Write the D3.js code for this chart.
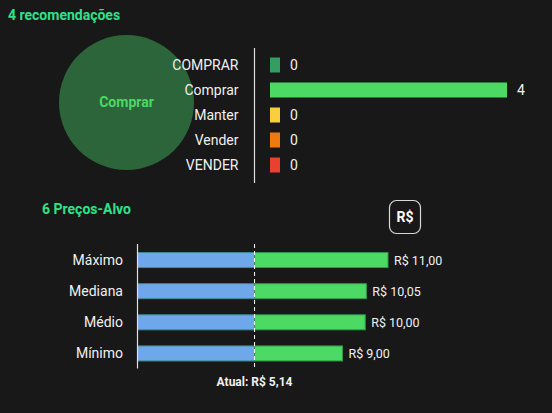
<!DOCTYPE html>
<html><head><meta charset="utf-8">
<script src="https://cdn.jsdelivr.net/npm/d3@7"></script>
<style>
html,body{margin:0;padding:0;background:#181818;}
svg{display:block;font-family:Roboto,"Noto Sans",sans-serif;}
</style></head>
<body>
<svg id="c" width="552" height="413"></svg>
<script>
const recTitle = "4 recomendações";
const recCategories = ["COMPRAR","Comprar","Manter","Vender","VENDER"];
const recValues = [0,4,0,0,0];
const recColors = ["#339d62","#4cd964","#f9cf3f","#ee7a10","#e8412f"];
const consensus = "Comprar";

const priceTitle = "6 Preços-Alvo";
const priceCategories = ["Máximo","Mediana","Médio","Mínimo"];
const priceValues = [11.00,10.05,10.00,9.00];
const priceLabels = ["R$ 11,00","R$ 10,05","R$ 10,00","R$ 9,00"];
const currentPrice = 5.14;
const currentLabel = "Atual: R$ 5,14";
const currency = "R$";

const svg = d3.select("#c");
svg.append("rect").attr("width",552).attr("height",413).attr("fill","#181818");
const green = "#2ee38a";

// Title 1
svg.append("text").attr("x",8).attr("y",19.5).attr("fill",green)
  .attr("font-size",14).attr("font-weight",700).text(recTitle);

// Circle
svg.append("circle").attr("cx",126.5).attr("cy",102.5).attr("r",67.5).attr("fill","#2c6539");
svg.append("text").attr("x",126.5).attr("y",107).attr("text-anchor","middle")
  .attr("fill","#4cd964").attr("font-size",14).attr("font-weight",700).text(consensus);

// Rec bars
const ry = d3.scaleBand().domain(recCategories).range([52.5,177.5]).paddingInner(0.4).paddingOuter(0.2);
const rx = d3.scaleLinear().domain([0,d3.max(recValues)]).range([270,507]);
const rg = svg.append("g");
rg.append("line").attr("x1",254.5).attr("x2",254.5).attr("y1",48).attr("y2",183)
  .attr("stroke","#e0e0e0").attr("stroke-width",1.2);
recCategories.forEach((c,i)=>{
  const yc = ry(c)+ry.bandwidth()/2;
  const w = Math.max(10, rx(recValues[i])-rx(0));
  rg.append("rect").attr("x",rx(0)).attr("y",yc-7.5).attr("width",w).attr("height",15).attr("fill",recColors[i]);
  rg.append("text").attr("x",238.5).attr("y",yc+5).attr("text-anchor","end")
    .attr("fill","#f0f0f0").attr("font-size",14).text(c);
  rg.append("text").attr("x",rx(0)+w+10).attr("y",yc+5)
    .attr("fill","#f0f0f0").attr("font-size",14).text(recValues[i]);
});

// Title 2
svg.append("text").attr("x",42).attr("y",214).attr("fill",green)
  .attr("font-size",14).attr("font-weight",700).text(priceTitle);

// Currency button
svg.append("rect").attr("x",389.5).attr("y",200.5).attr("width",31).attr("height",33).attr("rx",7)
  .attr("fill","none").attr("stroke","#d8d8d8").attr("stroke-width",1.2);
svg.append("text").attr("x",405).attr("y",222).attr("text-anchor","middle")
  .attr("fill","#ffffff").attr("font-size",14).attr("font-weight",700).text(currency);

// Price bars
const px = d3.scaleLinear().domain([0,d3.max(priceValues)]).range([137.5,388]);
const py = d3.scaleBand().domain(priceCategories).range([244.5,369]).paddingInner(0.5).paddingOuter(0.25);
const pg = svg.append("g");
priceCategories.forEach((c,i)=>{
  const yc = py(c)+py.bandwidth()/2;
  pg.append("rect").attr("x",px(0)).attr("y",yc-7.5).attr("width",px(currentPrice)-px(0)).attr("height",15)
    .attr("fill","#6fa8ea").attr("stroke","#3f8c8f").attr("stroke-width",1);
  pg.append("rect").attr("x",px(currentPrice)).attr("y",yc-7.5).attr("width",px(priceValues[i])-px(currentPrice)).attr("height",15)
    .attr("fill","#4cd964").attr("stroke","#2f9a4a").attr("stroke-width",1);
  pg.append("text").attr("x",123).attr("y",yc+5).attr("text-anchor","end")
    .attr("fill","#f0f0f0").attr("font-size",14).text(c);
  pg.append("text").attr("x",px(priceValues[i])+6).attr("y",yc+4.5)
    .attr("fill","#f0f0f0").attr("font-size",12.5).text(priceLabels[i]);
});
pg.append("line").attr("x1",137.5).attr("x2",137.5).attr("y1",244).attr("y2",368.5)
  .attr("stroke","#e0e0e0").attr("stroke-width",1.2);
pg.append("line").attr("x1",px(currentPrice)).attr("x2",px(currentPrice)).attr("y1",244).attr("y2",368.5)
  .attr("stroke","#ffffff").attr("stroke-width",1).attr("stroke-dasharray","4,3");
pg.append("text").attr("x",px(currentPrice)).attr("y",386).attr("text-anchor","middle")
  .attr("fill","#f0f0f0").attr("font-size",12).attr("font-weight",700).text(currentLabel);
</script>
</body></html>
